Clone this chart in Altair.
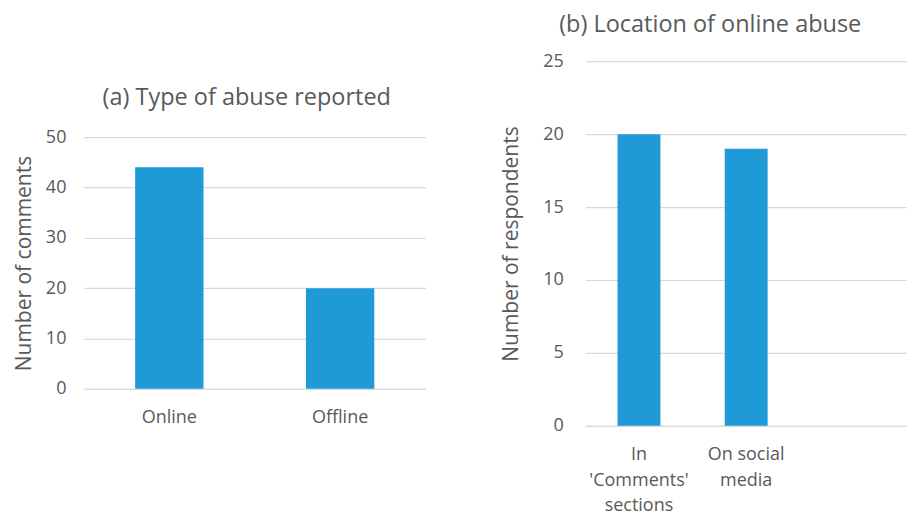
import altair as alt
import pandas as pd

# (a) Type of abuse reported
type_cats = ["Online", "Offline"]
type_vals = [44, 20]

# (b) Location of online abuse (third category slot is empty)
loc_cats = ["In\n'Comments'\nsections", "On social\nmedia"]
loc_vals = [20, 19]
loc_domain = loc_cats + [" "]

BLUE = "#1F9AD6"
TEXT = "#595959"
GRID = "#D9D9D9"
FONT = "Open Sans"

df_a = pd.DataFrame({"type": type_cats, "count": type_vals})
df_b = pd.DataFrame({"loc": loc_cats, "count": loc_vals})


def y_axis(title, vals, lab_pad, title_pad):
    return alt.Axis(
        title=title, values=vals, ticks=False, domain=False,
        labelPadding=lab_pad, titlePadding=title_pad,
        gridColor=GRID, gridWidth=1.2,
    )


def x_axis(**kw):
    return alt.Axis(title=None, labelAngle=0, ticks=False, grid=False,
                    domainColor=GRID, domainWidth=1.2, labelPadding=20, **kw)


a = alt.Chart(
    df_a,
    title=alt.Title("(a) Type of abuse reported", offset=19, dx=-8),
).mark_bar(color=BLUE).encode(
    x=alt.X("type:N", sort=type_cats,
            scale=alt.Scale(paddingInner=0.6, paddingOuter=0.3),
            axis=x_axis()),
    y=alt.Y("count:Q", scale=alt.Scale(domain=[0, 50], nice=False),
            axis=y_axis("Number of comments", [0, 10, 20, 30, 40, 50], 18, 11)),
).properties(width=342, height=252)

# invisible spacer that pushes panel (a) down
spacer = alt.Chart(df_a).mark_point(size=0, opacity=0, strokeWidth=0).properties(
    width=10, height=24
)

b = alt.Chart(
    df_b,
    title=alt.Title("(b) Location of online abuse", offset=16, dx=-36),
).mark_bar(color=BLUE).encode(
    x=alt.X("loc:N", sort=loc_domain,
            scale=alt.Scale(domain=loc_domain, paddingInner=0.6, paddingOuter=0.3),
            axis=x_axis(labelExpr="split(datum.label, '\\n')")),
    y=alt.Y("count:Q", scale=alt.Scale(domain=[0, 25], nice=False),
            axis=y_axis("Number of respondents", [0, 5, 10, 15, 20, 25], 22, 21)),
).properties(width=322, height=365)

left = alt.vconcat(spacer, a, spacing=0)

chart = alt.hconcat(left, b, spacing=75).properties(
    padding={"top": 4, "left": 5, "right": 0, "bottom": 0}
).configure_view(
    stroke=None
).configure_axis(
    labelFont=FONT, titleFont=FONT, labelColor=TEXT, titleColor=TEXT,
    labelFontSize=18, titleFontSize=21, titleFontWeight="normal",
    labelLineHeight=25.5,
).configure_title(
    font=FONT, fontSize=23.5, color=TEXT, fontWeight="normal", anchor="middle",
)

chart.save("out.html", embed_options={"renderer": "svg", "actions": False})
